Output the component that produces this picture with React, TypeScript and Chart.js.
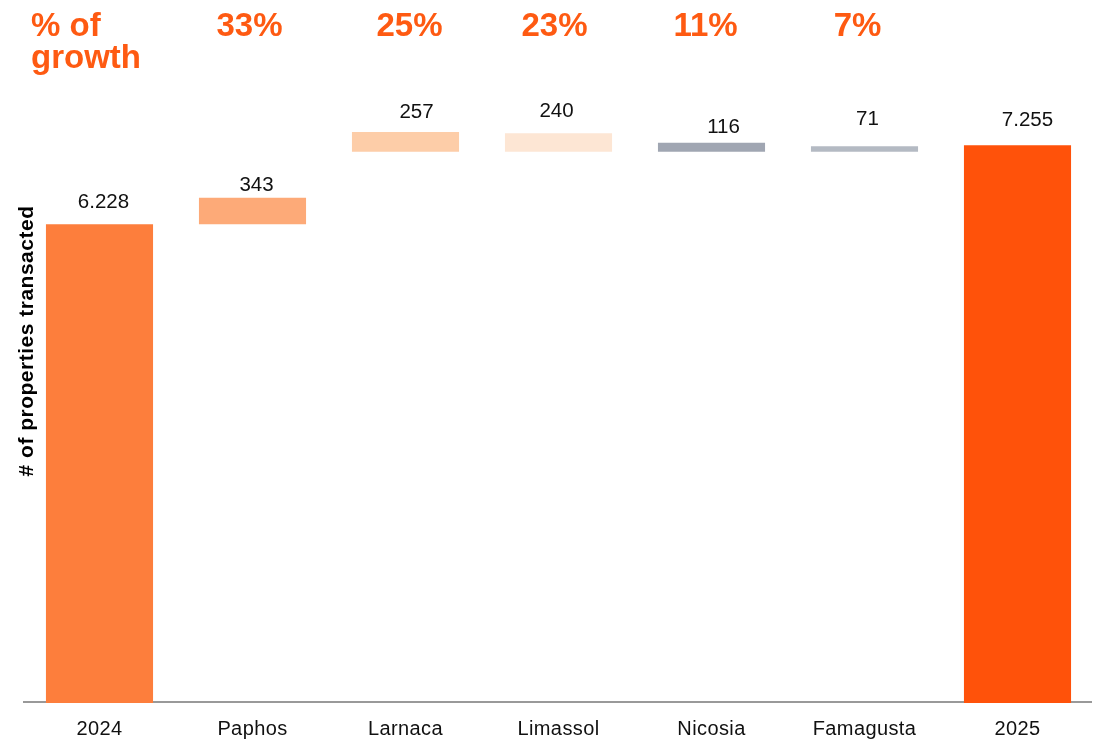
import React, { useEffect, useRef } from "react";
import { Chart, registerables } from "chart.js";

Chart.register(...registerables);

// ---- data ----
const categories = ["2024", "Paphos", "Larnaca", "Limassol", "Nicosia", "Famagusta", "2025"];
const barValues = [6228, 343, 257, 240, 116, 71, 7255];
const barBases = [0, 6228, 7170, 7170, 7170, 7170, 0];
const growthLabels = ["", "33%", "25%", "23%", "11%", "7%", ""];
const growthHeader = ["% of", "growth"];
const yAxisTitle = "# of properties transacted";
const yMax = 9000;

// ---- styles ----
const barColors = ["#FD7E3C", "#FDAA78", "#FDCDA8", "#FDE6D4", "#A0A6B2", "#B4BAC3", "#FF520A"];
const accent = "#FE5A12";
const labelNudgeX = [4, 4, 11, -2, 12, 3, 10];
const labelGap = [16, 7, 14, 16, 10, 21, 19];
const growthNudgeX = [0, -3, 4, -4, -6, -7, 0];
const FONT = "'Liberation Sans', Arial, sans-serif";

function formatValue(v: number): string {
  const s = String(v);
  return s.replace(/\B(?=(\d{3})+(?!\d))/g, ".");
}

const overlayPlugin = {
  id: "overlay",
  beforeDatasetsDraw(chart: any) {
    const { ctx, chartArea } = chart;
    const y = chart.scales.y.getPixelForValue(0);
    ctx.save();
    ctx.strokeStyle = "#999999";
    ctx.lineWidth = 2;
    ctx.beginPath();
    ctx.moveTo(chartArea.left, y - 1);
    ctx.lineTo(chartArea.right - 2, y - 1);
    ctx.stroke();
    ctx.restore();
  },
  afterDatasetsDraw(chart: any) {
    const { ctx } = chart;
    const xs = chart.scales.x;
    const ys = chart.scales.y;
    ctx.save();
    // value labels
    ctx.fillStyle = "#111111";
    ctx.font = `20.5px ${FONT}`;
    ctx.textAlign = "center";
    ctx.textBaseline = "alphabetic";
    categories.forEach((_, i) => {
      const x = xs.getPixelForValue(i) + labelNudgeX[i];
      const top = ys.getPixelForValue(barBases[i] + barValues[i]);
      ctx.fillText(formatValue(barValues[i]), x, top - labelGap[i]);
    });
    // category labels
    ctx.font = `20px ${FONT}`;
    (ctx as any).letterSpacing = "0.4px";
    categories.forEach((c, i) => {
      ctx.fillText(c, xs.getPixelForValue(i), 735);
    });
    (ctx as any).letterSpacing = "0px";
    // growth row
    ctx.fillStyle = accent;
    ctx.font = `bold 33px ${FONT}`;
    growthLabels.forEach((g, i) => {
      if (g) ctx.fillText(g, xs.getPixelForValue(i) + growthNudgeX[i], 36);
    });
    ctx.textAlign = "left";
    ctx.fillText(growthHeader[0], 31, 36);
    ctx.fillText(growthHeader[1], 31, 68);
    // y axis title
    ctx.fillStyle = "#000000";
    ctx.font = `bold 21px ${FONT}`;
    (ctx as any).letterSpacing = "0.5px";
    ctx.translate(33, 341);
    ctx.rotate(-Math.PI / 2);
    ctx.textAlign = "center";
    ctx.fillText(yAxisTitle, 0, 0);
    ctx.restore();
  },
};

export default function App() {
  const ref = useRef<HTMLCanvasElement | null>(null);
  useEffect(() => {
    if (!ref.current) return;
    const chart = new Chart(ref.current, {
      type: "bar",
      data: {
        labels: categories,
        datasets: [
          {
            data: categories.map((_, i) => [barBases[i], barBases[i] + barValues[i]]) as any,
            backgroundColor: barColors,
            borderWidth: 0,
            barPercentage: 0.7,
            categoryPercentage: 1.0,
          },
        ],
      },
      options: {
        animation: false,
        responsive: false,
        maintainAspectRatio: false,
        layout: { padding: { left: 23, right: 1, top: 11, bottom: 36 } },
        plugins: { legend: { display: false }, tooltip: { enabled: false }, title: { display: false } },
        scales: {
          x: { display: false, offset: true },
          y: { display: false, min: 0, max: yMax },
        },
      },
      plugins: [overlayPlugin],
    });
    return () => chart.destroy();
  }, []);
  return (
    <div style={{ position: "fixed", left: 0, top: 0, width: 1095, height: 739, background: "#fff" }}>
      <canvas ref={ref} width={1095} height={739} style={{ width: 1095, height: 739, display: "block" }} />
    </div>
  );
}
